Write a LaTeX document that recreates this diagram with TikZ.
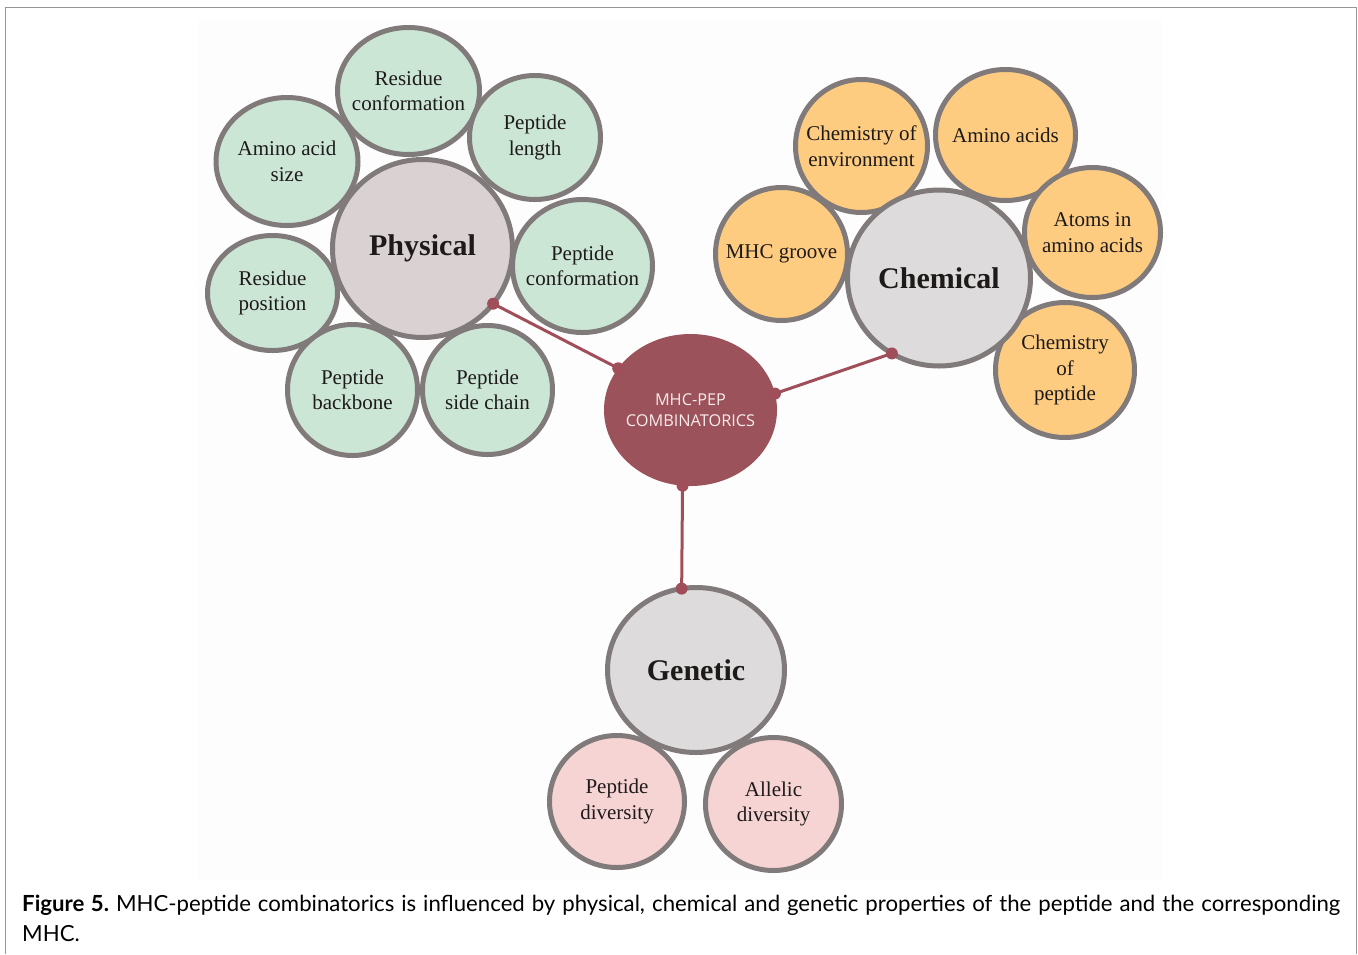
\documentclass[tikz,border=0pt]{standalone}
\usepackage{fontspec}
\setmainfont{Liberation Serif}
\newfontfamily\capfont{Lato}
\newfontfamily\mhcfont{Open Sans}
\usetikzlibrary{shapes.geometric}
\definecolor{bordgray}{RGB}{128,122,122}
\definecolor{greenfill}{RGB}{204,230,214}
\definecolor{orangefill}{RGB}{253,204,128}
\definecolor{pinkfill}{RGB}{247,212,212}
\definecolor{physfill}{RGB}{218,210,210}
\definecolor{chemfill}{RGB}{221,219,219}
\definecolor{mhcfill}{RGB}{155,82,90}
\definecolor{connc}{RGB}{160,78,90}
\definecolor{textc}{RGB}{30,26,26}
\definecolor{mhctext}{RGB}{248,236,236}
\definecolor{framec}{RGB}{150,150,150}
\definecolor{bgc}{RGB}{253,253,253}
\tikzset{
  bub/.style={ellipse, draw=bordgray, line width=5pt, inner sep=0pt, outer sep=0pt},
  sz/.style 2 args={minimum width=#1pt, minimum height=#2pt},
  lab/.style={font=\fontsize{21}{25.5}\selectfont, text=textc, align=center, inner sep=0pt},
  biglab/.style={font=\fontsize{30}{34}\selectfont\bfseries, text=textc, align=center, inner sep=0pt},
  green/.style={bub, fill=greenfill},
  orange/.style={bub, fill=orangefill},
  pink/.style={bub, fill=pinkfill},
  conn/.style={draw=connc, line width=3pt},
  dotc/.style={fill=connc},
}
\begin{document}
\begin{tikzpicture}[x=1pt, y=-1pt]
\useasboundingbox (0,0) rectangle (1358,954);
\fill[bgc] (197,20) rectangle (1163,880);
\draw[framec, line width=1.5pt] (5.5,954) -- (5.5,7.5) -- (1356.5,7.5) -- (1356.5,954);

% Physical cluster
\node[green, sz={142}{127}, label={[lab]center:Residue\\conformation}] (rc) at (408.5,91) {};
\node[green, sz={131}{124}, label={[lab]center:Peptide\\length}] (pl) at (535,137.5) {};
\node[green, sz={142}{128}, label={[lab]center:Amino acid\\size}] (aas) at (287,161.5) {};
\node[green, sz={140}{133}, label={[lab]center:Peptide\\conformation}] (pc) at (582.5,266) {};
\node[green, sz={130}{115}, label={[lab]center:Residue\\position}] (rp) at (272.5,293) {};
\node[green, sz={130}{131}, label={[lab]center:Peptide\\backbone}] (pb) at (352.5,390) {};
\node[green, sz={130}{129}, label={[lab]center:Peptide\\side chain}] (psc) at (487.5,390) {};
\node[bub, fill=physfill, sz={180}{178}, label={[biglab]center:Physical}] (phys) at (422.5,248.5) {};

% Chemical cluster
\node[orange, sz={132}{133}, label={[lab]center:Chemistry of\\environment}] (ce) at (861.5,146) {};
\node[orange, sz={140}{131}, label={[lab]center:Amino acids}] (aa) at (1005.5,135) {};
\node[orange, sz={132}{133}, label={[lab]center:MHC groove}] (mg) at (781.5,254) {};
\node[orange, sz={136}{130}, label={[lab]center:Atoms in\\amino acids}] (atoms) at (1092.5,232.5) {};
\node[orange, sz={139}{135}, label={[lab]center:Chemistry\\of\\peptide}] (cp) at (1065,370) {};
\node[bub, fill=chemfill, sz={183}{176}, label={[biglab]center:Chemical}] (chem) at (939,278) {};

% Genetic cluster
\node[bub, fill=chemfill, sz={177}{165}, label={[biglab]center:Genetic}] (gen) at (696,670) {};
\node[pink, sz={135}{132}, label={[lab]center:Peptide\\diversity}] (pdiv) at (617,801.5) {};
\node[pink, sz={136}{133}, label={[lab]center:Allelic\\diversity}] (adiv) at (773.5,804) {};

% Centre
\node[ellipse, fill=mhcfill, inner sep=0pt, outer sep=0pt, sz={173}{152},
  label={[font=\mhcfont\fontsize{16.3}{21}\selectfont, text=mhctext, align=center, inner sep=0pt]center:MHC-PEP\\COMBINATORICS}] (mhc) at (690.5,410) {};

% connectors
\coordinate (pd) at (phys.-38.7);
\coordinate (ml) at (mhc.150);
\coordinate (mr) at (mhc.11);
\coordinate (cd) at (chem.-122.7);
\coordinate (mb) at (mhc.-96);
\coordinate (gd) at (gen.100.4);
\draw[conn] (pd) -- (ml);
\draw[conn] (mr) -- (cd);
\draw[conn] (mb) -- (gd);
\foreach \p in {pd,ml,mr,cd,mb,gd} \fill[dotc] (\p) circle (6pt);

% caption
\node[anchor=base west, inner sep=0pt] (cap1) at (22,911)
  {\capfont\fontsize{22.2}{26}\selectfont\makebox[1318pt][s]{\textbf{Figure 5.}\ MHC-peptide combinatorics is influenced by physical, chemical and genetic properties of the peptide and the corresponding}};
\node[anchor=base west, inner sep=0pt] (cap2) at (22,941)
  {\capfont\fontsize{22.2}{26}\selectfont MHC.};
\end{tikzpicture}
\end{document}
